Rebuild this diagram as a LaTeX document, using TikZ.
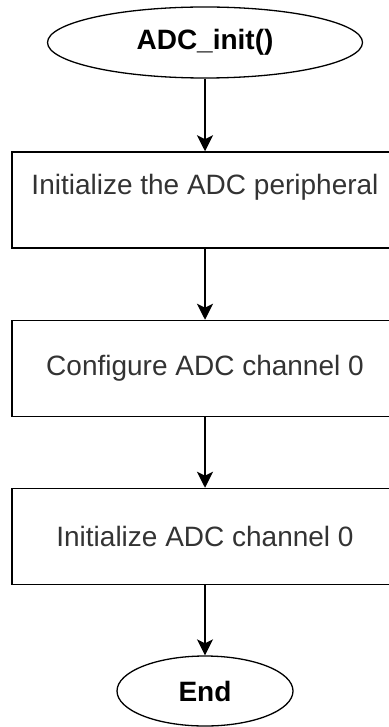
\documentclass[tikz,border=0pt]{standalone}
\usepackage{fontspec}
\setmainfont{Liberation Sans}
\usetikzlibrary{arrows.meta,shapes.geometric}
\definecolor{txtgray}{HTML}{333333}

\begin{document}
\begin{tikzpicture}[
  x=1pt, y=-1pt,
  font=\fontsize{28}{34}\selectfont,
  term/.style={draw, ellipse, line width=1.3pt, inner sep=0pt, font=\fontsize{28}{34}\selectfont\bfseries},
  procbox/.style={draw, line width=1.5pt, minimum width=386pt, minimum height=96pt, inner sep=0pt, text=txtgray},
  flow/.style={-{Stealth[length=16pt, width=16pt, inset=4pt]}, line width=1.5pt},
]
\useasboundingbox (0,0) rectangle (388,727);

% start / end terminals and the three steps
\node[term, minimum width=315pt, minimum height=71pt] (start) at (205,42.5) {ADC\_init()};
\node[procbox, text depth=32pt] (init) at (205,200) {Initialize the ADC peripheral};
\node[procbox] (config) at (205,368.5) {Configure ADC channel 0};
\node[procbox] (chinit) at (205,536.5) {Initialize ADC channel 0};
\node[term, minimum width=176pt, minimum height=70pt] (stop) at (205,691) {End};

\draw[flow] (start) -- (init);
\draw[flow] (init) -- (config);
\draw[flow] (config) -- (chinit);
\draw[flow] (chinit) -- (stop);

\end{tikzpicture}
\end{document}
